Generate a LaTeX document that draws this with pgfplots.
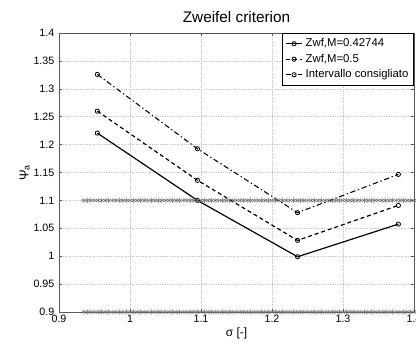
\documentclass[border=0pt]{standalone}
\usepackage{fontspec}
\setmainfont{Liberation Sans}
\usepackage{pgfplots}
\pgfplotsset{compat=1.18}
\usetikzlibrary{calc}
\begin{document}
\begin{tikzpicture}
\begin{axis}[
  scale only axis, width=266.25pt, height=209.25pt,
  xmin=0.9, xmax=1.4, ymin=0.9, ymax=1.4,
  clip=false,
  xtick={0.9,1,1.1,1.2,1.3,1.4},
  xticklabels={0.9,1,1.1,1.2,1.3,1.4},
  ytick={0.9,0.95,1,1.05,1.1,1.15,1.2,1.25,1.3,1.35,1.4},
  yticklabels={0.9,0.95,1,1.05,1.1,1.15,1.2,1.25,1.3,1.35,1.4},
  tick align=inside, major tick length=2.5pt,
  tick style={gray!70!black, thin},
  axis line style={gray!70!black, thin},
  grid=major, grid style={densely dotted, gray!45, thin},
  ticklabel style={font=\fontsize{8}{9}\selectfont},
  xticklabel style={yshift=1pt},
  title={Zweifel criterion}, title style={font=\fontsize{11.5}{13}\selectfont, yshift=-2pt},
  xlabel={σ [-]}, xlabel style={font=\fontsize{9}{10}\selectfont, yshift=3pt},
  ylabel={Ψ\textsubscript{a}}, ylabel style={font=\fontsize{9.5}{10}\selectfont, yshift=-4pt},
  legend style={at={(rel axis cs:1,1)}, anchor=north east, font=\fontsize{8.5}{10}\selectfont,
    draw=black, thin, inner sep=2pt, row sep=0pt, legend cell align=left},
  legend image code/.code={
    \draw[mark repeat=2,mark phase=2] plot coordinates {(0cm,0cm) (0.22cm,0cm) (0.44cm,0cm)};},
  every axis plot/.append style={mark options={solid, fill=gray!40, line width=0.6pt}, mark size=1.6pt},
]
\addplot[black, line width=0.9pt, mark=o] coordinates {(0.954,1.2206) (1.095,1.100) (1.236,0.999) (1.378,1.0575)};
\addlegendentry{Zwf,M=0.42744}
\addplot[black, line width=0.9pt, dash pattern=on 3pt off 2.2pt, mark=o] coordinates {(0.954,1.260) (1.095,1.136) (1.236,1.0283) (1.378,1.091)};
\addlegendentry{Zwf,M=0.5}
\addplot[black, line width=0.8pt, dash pattern=on 4pt off 2pt on 1pt off 2pt, mark=o, mark options={solid, fill=white, line width=0.6pt}] coordinates {(0.954,1.3258) (1.095,1.1925) (1.236,1.078) (1.378,1.1466)};
\addlegendentry{Intervallo consigliato}
\addplot[gray!85!black, mark=asterisk, mark size=2pt, only marks, forget plot, mark options={solid, line width=0.35pt}] coordinates {
(0.935,1.1)(0.940,1.1)(0.945,1.1)(0.950,1.1)(0.955,1.1)(0.960,1.1)(0.965,1.1)(0.970,1.1)(0.975,1.1)(0.980,1.1)
(0.985,1.1)(0.990,1.1)(0.995,1.1)(1.000,1.1)(1.005,1.1)(1.010,1.1)(1.015,1.1)(1.020,1.1)(1.025,1.1)(1.030,1.1)
(1.035,1.1)(1.040,1.1)(1.045,1.1)(1.050,1.1)(1.055,1.1)(1.060,1.1)(1.065,1.1)(1.070,1.1)(1.075,1.1)(1.080,1.1)
(1.085,1.1)(1.090,1.1)(1.095,1.1)(1.100,1.1)(1.105,1.1)(1.110,1.1)(1.115,1.1)(1.120,1.1)(1.125,1.1)(1.130,1.1)
(1.135,1.1)(1.140,1.1)(1.145,1.1)(1.150,1.1)(1.155,1.1)(1.160,1.1)(1.165,1.1)(1.170,1.1)(1.175,1.1)(1.180,1.1)
(1.185,1.1)(1.190,1.1)(1.195,1.1)(1.200,1.1)(1.205,1.1)(1.210,1.1)(1.215,1.1)(1.220,1.1)(1.225,1.1)(1.230,1.1)
(1.235,1.1)(1.240,1.1)(1.245,1.1)(1.250,1.1)(1.255,1.1)(1.260,1.1)(1.265,1.1)(1.270,1.1)(1.275,1.1)(1.280,1.1)
(1.285,1.1)(1.290,1.1)(1.295,1.1)(1.300,1.1)(1.305,1.1)(1.310,1.1)(1.315,1.1)(1.320,1.1)(1.325,1.1)(1.330,1.1)
(1.335,1.1)(1.340,1.1)(1.345,1.1)(1.350,1.1)(1.355,1.1)(1.360,1.1)(1.365,1.1)(1.370,1.1)(1.375,1.1)(1.380,1.1)
(1.385,1.1)(1.390,1.1)(1.395,1.1)(1.400,1.1)(1.405,1.1)(1.410,1.1)
};
\addplot[gray!85!black, mark=asterisk, mark size=2pt, only marks, forget plot, mark options={solid, line width=0.35pt}] coordinates {
(0.935,0.9)(0.940,0.9)(0.945,0.9)(0.950,0.9)(0.955,0.9)(0.960,0.9)(0.965,0.9)(0.970,0.9)(0.975,0.9)(0.980,0.9)
(0.985,0.9)(0.990,0.9)(0.995,0.9)(1.000,0.9)(1.005,0.9)(1.010,0.9)(1.015,0.9)(1.020,0.9)(1.025,0.9)(1.030,0.9)
(1.035,0.9)(1.040,0.9)(1.045,0.9)(1.050,0.9)(1.055,0.9)(1.060,0.9)(1.065,0.9)(1.070,0.9)(1.075,0.9)(1.080,0.9)
(1.085,0.9)(1.090,0.9)(1.095,0.9)(1.100,0.9)(1.105,0.9)(1.110,0.9)(1.115,0.9)(1.120,0.9)(1.125,0.9)(1.130,0.9)
(1.135,0.9)(1.140,0.9)(1.145,0.9)(1.150,0.9)(1.155,0.9)(1.160,0.9)(1.165,0.9)(1.170,0.9)(1.175,0.9)(1.180,0.9)
(1.185,0.9)(1.190,0.9)(1.195,0.9)(1.200,0.9)(1.205,0.9)(1.210,0.9)(1.215,0.9)(1.220,0.9)(1.225,0.9)(1.230,0.9)
(1.235,0.9)(1.240,0.9)(1.245,0.9)(1.250,0.9)(1.255,0.9)(1.260,0.9)(1.265,0.9)(1.270,0.9)(1.275,0.9)(1.280,0.9)
(1.285,0.9)(1.290,0.9)(1.295,0.9)(1.300,0.9)(1.305,0.9)(1.310,0.9)(1.315,0.9)(1.320,0.9)(1.325,0.9)(1.330,0.9)
(1.335,0.9)(1.340,0.9)(1.345,0.9)(1.350,0.9)(1.355,0.9)(1.360,0.9)(1.365,0.9)(1.370,0.9)(1.375,0.9)(1.380,0.9)
(1.385,0.9)(1.390,0.9)(1.395,0.9)(1.400,0.9)(1.405,0.9)(1.410,0.9)
};
\end{axis}
\pgfresetboundingbox
\useasboundingbox ($(current axis.south west)+(-44.25pt,-24pt)$) rectangle ($(current axis.north east)+(1.5pt,24.75pt)$);
\end{tikzpicture}
\end{document}
